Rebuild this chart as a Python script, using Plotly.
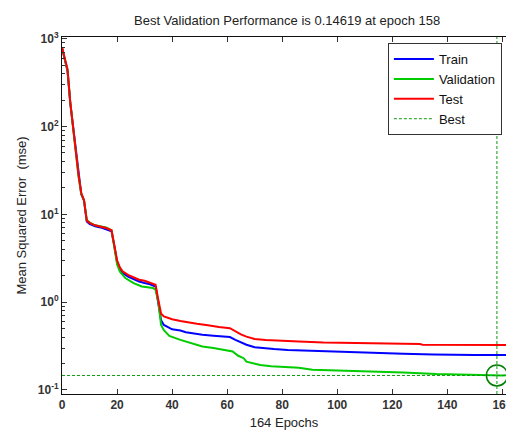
import plotly.graph_objects as go

# ---- data ----
train_epochs = [0, 1, 2, 3, 4, 5, 6, 7, 8, 9, 10, 12, 14, 16, 18, 19, 20, 21, 22, 24, 26, 28, 30, 32, 34, 35, 36, 37,
                40, 43, 45, 48, 51, 55, 58, 61, 63, 65, 67, 70, 74, 77, 82, 86, 94, 100, 112, 118, 124, 135, 142, 150, 158, 164]
train_mse = [790, 590, 430, 185, 98, 54, 27, 17, 14.3, 8.3, 7.8, 7.3, 7.1, 6.8, 6.4, 4.4, 2.9, 2.4, 2.15, 1.95, 1.82, 1.72, 1.65, 1.6, 1.5, 1.0, 0.62, 0.55,
             0.49, 0.475, 0.455, 0.44, 0.425, 0.415, 0.405, 0.40, 0.372, 0.345, 0.327, 0.307, 0.295, 0.292, 0.286, 0.283, 0.274, 0.272, 0.264, 0.26, 0.258, 0.254, 0.251, 0.25, 0.25, 0.249]

val_epochs = [0, 1, 2, 3, 4, 5, 6, 7, 8, 9, 10, 12, 14, 16, 18, 19, 20, 21, 23, 26, 29, 33, 34, 35, 36, 37, 39, 43, 45,
              49, 51, 55, 57, 61, 62, 64, 66, 67, 72, 76, 82, 86, 91, 100, 108, 112, 124, 136, 148, 154, 158, 160, 164]
val_mse = [780, 600, 440, 190, 100, 55, 27, 17, 14.5, 8.6, 8.1, 7.5, 7.3, 7.1, 6.6, 4.2, 2.7, 2.24, 1.88, 1.65, 1.51, 1.45, 1.38, 1.0, 0.55, 0.48, 0.413, 0.372, 0.356,
           0.325, 0.312, 0.30, 0.292, 0.279, 0.274, 0.245, 0.23, 0.21, 0.193, 0.186, 0.18, 0.179, 0.17, 0.167, 0.164, 0.162, 0.158, 0.152, 0.148, 0.147, 0.14619, 0.1465, 0.147]

test_epochs = [0, 1, 2, 3, 4, 5, 6, 7, 8, 9, 10, 12, 14, 16, 18, 19, 20, 21, 22, 24, 26, 28, 30, 32, 34, 35, 36, 37,
               40, 43, 46, 49, 53, 57, 61, 63, 65, 67, 70, 74, 78, 86, 95, 100, 112, 120, 130, 131, 145, 158, 164]
test_mse = [800, 600, 450, 190, 100, 56, 28, 17.5, 14.5, 8.5, 8.0, 7.5, 7.3, 7.0, 6.6, 4.6, 3.0, 2.5, 2.25, 2.05, 1.9, 1.8, 1.75, 1.68, 1.58, 1.06, 0.74, 0.687,
            0.64, 0.61, 0.585, 0.567, 0.545, 0.52, 0.506, 0.463, 0.43, 0.405, 0.38, 0.37, 0.363, 0.356, 0.347, 0.345, 0.341, 0.338, 0.333, 0.327, 0.326, 0.325, 0.325]

best_epoch = 158
best_perf = 0.14619
total_epochs = 164

x_tickvals = [0, 20, 40, 60, 80, 100, 120, 140, 160]
y_tickvals = [0.1, 1, 10, 100, 1000]
y_ticktext = ["10<sup>-1</sup>", "10<sup>0</sup>", "10<sup>1</sup>", "10<sup>2</sup>", "10<sup>3</sup>"]

FONT = "Liberation Sans, Arial, sans-serif"
BEST_GREEN = "#109a10"

fig = go.Figure()
fig.add_trace(go.Scatter(x=train_epochs, y=train_mse, mode="lines", name="Train",
                         line=dict(color="#0000FF", width=2)))
fig.add_trace(go.Scatter(x=val_epochs, y=val_mse, mode="lines", name="Validation",
                         line=dict(color="#00CC00", width=2)))
fig.add_trace(go.Scatter(x=test_epochs, y=test_mse, mode="lines", name="Test",
                         line=dict(color="#FF0000", width=2)))
fig.add_trace(go.Scatter(x=[None], y=[None], mode="lines", name="Best",
                         line=dict(color=BEST_GREEN, width=1, dash="3px,2px")))
fig.add_trace(go.Scatter(x=[best_epoch], y=[best_perf], mode="markers", showlegend=False,
                         marker=dict(symbol="circle-open", size=21, color="#008000",
                                     line=dict(width=1.5, color="#008000"))))

fig.add_shape(type="line", xref="x", yref="y domain", x0=best_epoch, x1=best_epoch, y0=0, y1=1,
              line=dict(color=BEST_GREEN, width=1, dash="3px,2px"), layer="above")
fig.add_shape(type="line", xref="x domain", yref="y", x0=0, x1=1, y0=best_perf, y1=best_perf,
              line=dict(color=BEST_GREEN, width=1, dash="3px,2px"), layer="above")

fig.update_layout(
    width=506, height=430,
    margin=dict(l=62, r=0, t=37, b=36, autoexpand=False),
    paper_bgcolor="white", plot_bgcolor="white",
    font=dict(family=FONT, size=12, color="#222222"),
    title=dict(text=f"Best Validation Performance is {best_perf} at epoch {best_epoch}",
               x=0.507, xanchor="center", xref="paper", y=1 - 20 / 430, yanchor="middle", yref="container",
               font=dict(family=FONT, size=13, color="#222222")),
    showlegend=True,
    legend=dict(x=0.734, xanchor="left", y=0.983, yanchor="top", xref="paper", yref="paper",
                bgcolor="white", bordercolor="#333333", borderwidth=1,
                font=dict(family=FONT, size=13, color="#111111"),
                itemwidth=40, tracegroupgap=0),
    xaxis=dict(range=[0, 161.3], tickvals=x_tickvals, ticks="inside", ticklen=5, tickcolor="#333333",
               showline=True, linecolor="#111111", linewidth=1, mirror="ticks", showgrid=False, zeroline=False,
               automargin=False, ticklabeloverflow="allow",
               tickfont=dict(family=FONT, size=12, color="#333333", weight="bold"),
               title=dict(text=f"{total_epochs} Epochs", font=dict(family=FONT, size=13, color="#222222"),
                          standoff=7)),
    yaxis=dict(type="log", range=[-1.046, 3.02], tickvals=y_tickvals, ticktext=y_ticktext,
               ticks="inside", ticklen=5, tickcolor="#333333",
               minor=dict(ticks="inside", ticklen=3, dtick="D1", tickcolor="#333333", showgrid=False),
               showline=True, linecolor="#111111", linewidth=1, mirror=False, showgrid=False, zeroline=False,
               automargin=False,
               tickfont=dict(family=FONT, size=12, color="#333333", weight="bold"),
               title=dict(text="Mean Squared Error  (mse)", font=dict(family=FONT, size=13, color="#222222"),
                          standoff=8)),
)

fig.write_html("out.html", config={"displayModeBar": False},
               post_script="document.body.style.margin='0';document.body.style.overflow='hidden';")
